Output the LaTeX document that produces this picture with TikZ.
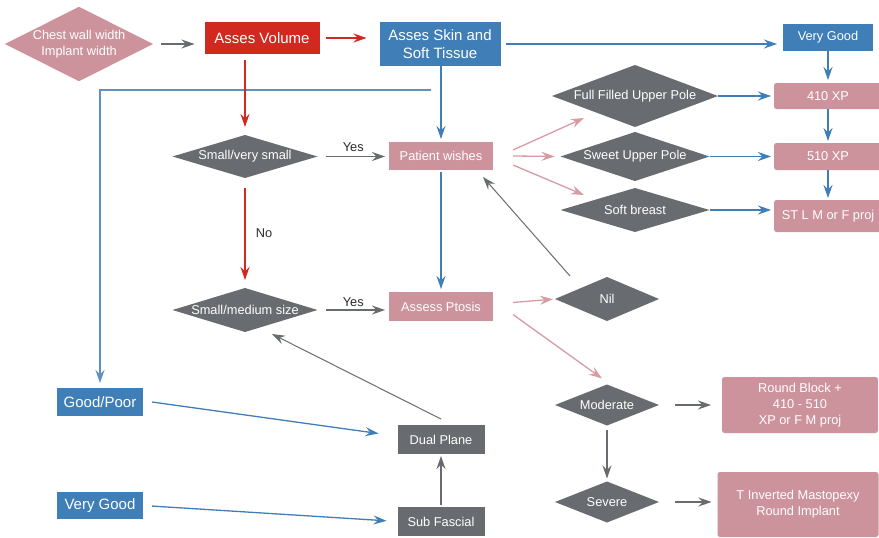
\documentclass[tikz,border=0pt]{standalone}
\usepackage{fontspec}
\setmainfont{Liberation Sans}
\usetikzlibrary{shapes.geometric,arrows.meta}
\definecolor{cpink}{HTML}{CD939C}
\definecolor{cpinkl}{HTML}{D69BA3}
\definecolor{cgray}{HTML}{686B6F}
\definecolor{cblue}{HTML}{3F7EB6}
\definecolor{cred}{HTML}{D1291F}
\definecolor{ctext}{HTML}{2B2B2B}
\begin{document}
\begin{tikzpicture}[x=1pt,y=-1pt,
  sm/.style={font=\fontsize{12.8}{16}\selectfont},
  lg/.style={font=\fontsize{15}{18.5}\selectfont},
  box/.style={rectangle, inner sep=0pt, outer sep=0pt, text=white, align=center},
  rbox/.style={box, rounded corners=2.5pt},
  dia/.style={diamond, inner sep=0pt, outer sep=0pt, fill=cgray, text=white, align=center, sm},
  tip/.style={-{Stealth[length=13pt,width=9pt,inset=4.5pt]}, line width=1.3pt},
  ag/.style={tip, draw=cgray},
  ab/.style={tip, draw=cblue},
  ar/.style={tip, draw=cred},
  ap/.style={tip, draw=cpinkl},
  lbl/.style={text=ctext, sm}
]
\useasboundingbox (0,0) rectangle (879,538);

% nodes
\node[dia, fill=cpink, minimum width=147pt, minimum height=74pt, aspect=1.99] (chest) at (79,44) {Chest wall width\\Implant width};
\node[box, lg, fill=cred, minimum width=115pt, minimum height=32pt] (vol) at (262,38) {Asses Volume};
\node[box, lg, fill=cblue, minimum width=121pt, minimum height=44pt] (skin) at (440,44) {Asses Skin and\\Soft Tissue};
\node[box, sm, fill=cblue, minimum width=90pt, minimum height=27pt] (vgt) at (828,37.5) {Very Good};
\node[rbox, sm, fill=cpink, minimum width=108pt, minimum height=26pt] (x410) at (828,96) {410 XP};
\node[rbox, sm, fill=cpink, minimum width=108pt, minimum height=27pt] (x510) at (828,156.5) {510 XP};
\node[rbox, sm, fill=cpink, minimum width=108pt, minimum height=32pt] (stl) at (828,216) {ST L M or F proj};

\node[dia, minimum width=166pt, minimum height=62pt, aspect=2.68] (fup) at (635,96) {Full Filled Upper Pole};
\node[dia, minimum width=149pt, minimum height=49pt, aspect=3.04] (sup) at (635,156.5) {Sweet Upper Pole};
\node[dia, minimum width=149pt, minimum height=44pt, aspect=3.39] (sb) at (635,210) {Soft breast};

\node[box, sm, fill=cpink, minimum width=104pt, minimum height=28pt] (pw) at (441,156) {Patient wishes};
\node[box, sm, fill=cpink, minimum width=104pt, minimum height=29pt] (pt) at (441,306.5) {Assess Ptosis};

\node[dia, minimum width=145pt, minimum height=43pt, aspect=3.37] (svs) at (245,156.5) {Small/very small};
\node[dia, minimum width=145pt, minimum height=44pt, aspect=3.3] (smd) at (245,310) {Small/medium size};

\node[dia, minimum width=104pt, minimum height=44pt, aspect=2.36] (nil) at (607,299) {Nil};
\node[dia, minimum width=104pt, minimum height=41pt, aspect=2.54] (mod) at (607,405) {Moderate};
\node[dia, minimum width=104pt, minimum height=41pt, aspect=2.54] (sev) at (607,502) {Severe};

\node[rbox, sm, fill=cpink, minimum width=156pt, minimum height=56pt] (rb) at (800,405) {Round Block +\\410 - 510\\XP or F M proj};
\node[rbox, sm, fill=cpink, minimum width=161pt, minimum height=65pt] (ti) at (798,504.5) {T Inverted Mastopexy\\Round Implant};

\node[box, lg, fill=cblue, minimum width=86pt, minimum height=28pt] (gp) at (100,402) {Good/Poor};
\node[box, lg, fill=cblue, minimum width=86pt, minimum height=27pt] (vgb) at (100,505.5) {Very Good};
\node[box, sm, fill=cgray, minimum width=87pt, minimum height=29pt] (dp) at (441,439.5) {Dual Plane};
\node[box, sm, fill=cgray, minimum width=87pt, minimum height=29pt] (sf) at (441,521.5) {Sub Fascial};

\coordinate (bl) at (431,90);

% connectors
\draw[ag, shorten <=8pt, shorten >=10pt] (chest.east) -- (chest.east -| vol.west);
\draw[ar, shorten <=6pt, shorten >=13pt] (vol.east) -- (vol.east -| skin.west);
\draw[ab, shorten <=5pt, shorten >=6pt] (skin.east) -- (skin.east -| vgt.west);
\draw[ab, shorten >=3pt] (vgt.south) -- (x410.north);
\draw[ab, shorten >=2pt] (x410.south) -- (x510.north);
\draw[ab, shorten >=2pt] (x510.south) -- (stl.north);
\draw[ab, shorten >=3pt] (fup.east) -- (fup.east -| x410.west);
\draw[ab, shorten >=3pt] (sup.east) -- (sup.east -| x510.west);
\draw[ab, shorten >=3pt] (sb.east) -- (sb.east -| stl.west);

\draw[ab, shorten >=3pt] (skin.south -| pw.north) -- (pw.north);
\draw[ab, shorten >=5pt, draw=cblue!85] (bl) -| (gp.north);

\draw[ar, shorten <=6pt, shorten >=8pt] (svs.north |- vol.south) -- (svs.north);
\draw[ag, shorten <=8pt, shorten >=4pt] (svs.east) -- (svs.east -| pw.west) node[lbl, midway, above=1pt] {Yes};
\draw[ar, shorten <=10pt, shorten >=8pt] (svs.south) -- (smd.north) node[lbl, midway, right=7pt] {No};
\draw[ag, shorten <=8pt, shorten >=4pt] (smd.east) -- (smd.east -| pt.west) node[lbl, midway, above=-1pt] {Yes};

\draw[ab, shorten <=2pt, shorten >=3pt] (pw.south) -- (pt.north);

\draw[ap] ([xshift=20pt,yshift=6pt]pw.east) -- ([xshift=-51pt,yshift=-22pt]fup.center);
\draw[ap, shorten >=6pt] ([xshift=20pt]pw.east) -- (sup.west);
\draw[ap] ([xshift=20pt,yshift=-9pt]pw.east) -- ([xshift=-51pt,yshift=15pt]sb.center);

\draw[ag, line width=1pt] ([xshift=-37pt,yshift=23pt]nil.center) -- ([xshift=42pt,yshift=-21pt]pw.center);
\draw[ap, shorten >=2pt] ([xshift=20pt,yshift=4pt]pt.east) -- (nil.west);
\draw[ap] ([xshift=20pt,yshift=-8pt]pt.east) -- ([xshift=-5pt,yshift=6pt]mod.north);

\draw[ag, shorten <=16pt, shorten >=11pt] (mod.east) -- (rb.west);
\draw[ag, shorten <=4pt, shorten >=3pt] (mod.south) -- (sev.north);
\draw[ag, shorten <=16pt, shorten >=6pt] (sev.east) -- (sev.east -| ti.west);

\draw[ag, shorten <=2pt, shorten >=2pt] (sf.north) -- (dp.north |- dp.south);
\draw[ag, line width=1pt] ([yshift=6pt]dp.north) -- ([xshift=27pt,yshift=-2pt]smd.south);
\draw[ab] ([xshift=9pt]gp.east) -- ([xshift=-19pt,yshift=6pt]dp.west);
\draw[ab, shorten <=9pt, shorten >=11pt] (vgb.east) -- (sf.west);
\end{tikzpicture}
\end{document}
